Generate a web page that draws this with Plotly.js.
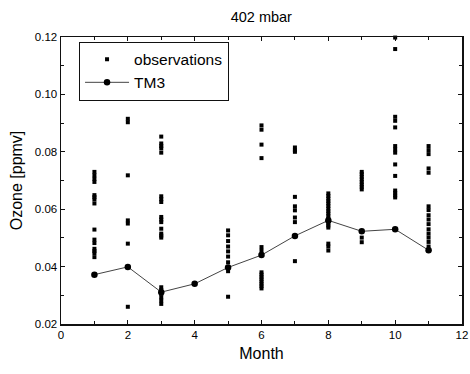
<!DOCTYPE html>
<html>
<head>
<meta charset="utf-8">
<script src="https://cdn.plot.ly/plotly-3.0.1.min.js"></script>
<style>html,body{margin:0;padding:0;background:#fff;}#chart{width:470px;height:374px;}</style>
</head>
<body>
<div id="chart"></div>
<script>
// Observations per month (ppmv)
const obsMonth1 = [0.0730, 0.0718, 0.0706, 0.0695, 0.0649, 0.0642, 0.0634, 0.0620, 0.0529, 0.0494, 0.0482, 0.0462, 0.0454, 0.0447, 0.0433];
const obsMonth2 = [0.0915, 0.0903, 0.0718, 0.0561, 0.0550, 0.0480, 0.0260];
const obsMonth3 = [0.0853, 0.0829, 0.0820, 0.0812, 0.0797, 0.0645, 0.0635, 0.0625, 0.0573, 0.0564, 0.0555, 0.0532, 0.0515, 0.0508, 0.0501, 0.0328, 0.0318, 0.0305, 0.0293, 0.0282, 0.0270];
const obsMonth4 = [];
const obsMonth5 = [0.0526, 0.0509, 0.0489, 0.0470, 0.0453, 0.0435, 0.0415, 0.0398, 0.0384, 0.0295];
const obsMonth6 = [0.0892, 0.0877, 0.0825, 0.0778, 0.0468, 0.0455, 0.0380, 0.0372, 0.0364, 0.0356, 0.0348, 0.0340, 0.0332, 0.0324];
const obsMonth7 = [0.0815, 0.0805, 0.0800, 0.0643, 0.0610, 0.0596, 0.0571, 0.0555, 0.0419];
const obsMonth8 = [0.0655, 0.0646, 0.0637, 0.0628, 0.0620, 0.0611, 0.0602, 0.0593, 0.0585, 0.0576, 0.0567, 0.0558, 0.0550, 0.0543, 0.0536, 0.0480, 0.0470, 0.0456];
const obsMonth9 = [0.0730, 0.0722, 0.0713, 0.0704, 0.0695, 0.0686, 0.0678, 0.0669, 0.0501, 0.0485];
const obsMonth10 = [0.1198, 0.1158, 0.0922, 0.0908, 0.0885, 0.0820, 0.0808, 0.0797, 0.0756, 0.0716, 0.0665, 0.0657, 0.0648, 0.0641];
const obsMonth11 = [0.0820, 0.0806, 0.0792, 0.0742, 0.0727, 0.0610, 0.0597, 0.0579, 0.0564, 0.0548, 0.0530, 0.0515, 0.0501, 0.0486, 0.0470];

// TM3 model monthly means
const tm3Months = [1, 2, 3, 4, 5, 6, 7, 8, 9, 10, 11];
const tm3Values = [0.0372, 0.0399, 0.0311, 0.0340, 0.0397, 0.0440, 0.0507, 0.0561, 0.0523, 0.0530, 0.0457];

const xTickVals = [0, 2, 4, 6, 8, 10, 12];
const yTickVals = [0.02, 0.04, 0.06, 0.08, 0.10, 0.12];

const obsLists = [obsMonth1, obsMonth2, obsMonth3, obsMonth4, obsMonth5, obsMonth6, obsMonth7, obsMonth8, obsMonth9, obsMonth10, obsMonth11];
const obsX = [], obsY = [];
obsLists.forEach((list, i) => list.forEach(v => { obsX.push(i + 1); obsY.push(v); }));

const font = 'Liberation Sans, Arial, sans-serif';

const traces = [
  {
    x: obsX, y: obsY, type: 'scatter', mode: 'markers', name: 'observations',
    marker: {symbol: 'square', size: 4, color: '#000'},
    cliponaxis: false
  },
  {
    x: tm3Months, y: tm3Values, type: 'scatter', mode: 'lines+markers', name: 'TM3',
    line: {color: '#444', width: 1},
    marker: {symbol: 'circle', size: 6.5, color: '#000'},
    cliponaxis: false
  }
];

const axisCommon = {
  showgrid: false, zeroline: false,
  showline: true, linecolor: '#111', linewidth: 1.5, mirror: 'ticks',
  ticks: 'inside', ticklen: 4, tickwidth: 1.2, tickcolor: '#111',
  tickfont: {family: font, size: 11.5, color: '#000'}
};

const layout = {
  width: 470, height: 374,
  margin: {l: 61, r: 8, t: 37, b: 50},
  paper_bgcolor: '#fff', plot_bgcolor: '#fff',
  title: {text: '402 mbar', font: {family: font, size: 14.5, color: '#000'}, x: 0.556, xanchor: 'center', y: 0.955, yanchor: 'middle'},
  xaxis: Object.assign({}, axisCommon, {
    range: [0, 12], tickvals: xTickVals, ticktext: xTickVals.map(String),
    minor: {ticks: 'inside', ticklen: 3, tickwidth: 1, tickcolor: '#111', dtick: 1, tick0: 0},
    title: {text: 'Month', font: {family: font, size: 16, color: '#000'}, standoff: 7}
  }),
  yaxis: Object.assign({}, axisCommon, {
    range: [0.02, 0.12], tickvals: yTickVals, tickformat: '.2f',
    minor: {ticks: 'inside', ticklen: 3, tickwidth: 1, tickcolor: '#111', dtick: 0.01, tick0: 0.02},
    title: {text: 'Ozone [ppmv]', font: {family: font, size: 16, color: '#000'}, standoff: 8}
  }),
  legend: {
    x: 0.045, y: 0.984, xanchor: 'left', yanchor: 'top',
    bordercolor: '#111', borderwidth: 1, bgcolor: '#fff',
    font: {family: font, size: 15.5, color: '#000'},
    itemwidth: 44, tracegroupgap: 0
  },
  showlegend: true
};

Plotly.newPlot('chart', traces, layout, {displayModeBar: false, staticPlot: true});
</script>
</body>
</html>
